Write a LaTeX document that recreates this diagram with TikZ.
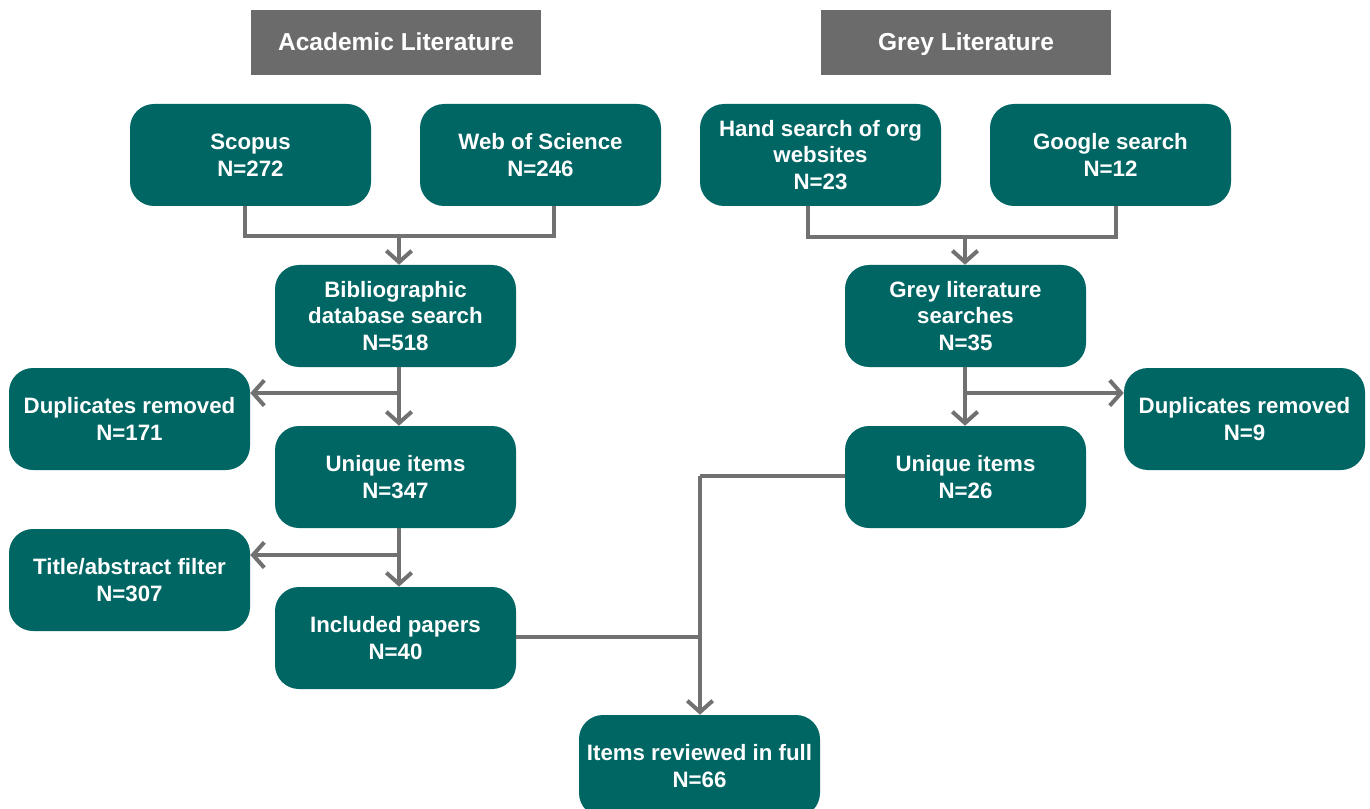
\documentclass[tikz,border=0pt]{standalone}
\usepackage{fontspec}
\setmainfont{Liberation Sans}
\usetikzlibrary{arrows.meta}
\definecolor{boxteal}{HTML}{006664}
\definecolor{hdrgray}{HTML}{6B6B6B}
\definecolor{lngray}{HTML}{717171}
\tikzset{
  box/.style={fill=boxteal, rounded corners=18pt, minimum width=180.75pt, minimum height=76.5pt,
    text=white, font=\bfseries\fontsize{16.7}{20}\selectfont, align=center, inner sep=0pt},
  hdr/.style={fill=hdrgray, minimum width=217.5pt, minimum height=48.75pt,
    text=white, font=\bfseries\fontsize{18.4}{22}\selectfont, inner sep=0pt,
    text height=16.2pt, text depth=3.8pt},
  conn/.style={draw=lngray, line width=3pt},
  arr/.style={conn, -{Straight Barb[length=8.5pt,width=19pt]}},
}
\begin{document}
\begin{tikzpicture}[x=0.75pt,y=-0.75pt]
\path[use as bounding box, clip] (0,0) rectangle (1370,809);
% headers
\node[hdr] (acad) at (396,42.5) {Academic Literature};
\node[hdr] (grey) at (966,42.5) {Grey Literature};
% boxes
\node[box] (scopus) at (250.5,155) {Scopus\\N=272};
\node[box] (wos) at (540.5,155) {Web of Science\\N=246};
\node[box] (hand) at (820.5,155) {Hand search of org\\websites\\N=23};
\node[box] (google) at (1110.5,155) {Google search\\N=12};
\node[box] (bib) at (395.5,316) {Bibliographic\\database search\\N=518};
\node[box] (glit) at (965.5,316) {Grey literature\\searches\\N=35};
\node[box] (dup1) at (129.5,419) {Duplicates removed\\N=171};
\node[box] (uniq1) at (395.5,477) {Unique items\\N=347};
\node[box] (dup2) at (1244.5,419) {Duplicates removed\\N=9};
\node[box] (uniq2) at (965.5,477) {Unique items\\N=26};
\node[box] (title) at (129.5,580) {Title/abstract filter\\N=307};
\node[box] (incl) at (395.5,638) {Included papers\\N=40};
\node[box] (items) at (699.5,766) {Items reviewed in full\\N=66};
% junctions
\coordinate (j1) at (399,236);
\coordinate (j2) at (965,237);
\coordinate (j3) at (399,393);
\coordinate (j4) at (965,393);
\coordinate (j5) at (399,555);
\coordinate (j6) at (700,476);
\coordinate (j7) at (700,637);
% connectors
\draw[conn] ([xshift=-4.1pt]scopus.south) |- (j1) -| ([xshift=10.1pt]wos.south);
\draw[arr] (j1) -- (j1 |- bib.north);
\draw[conn] ([xshift=-9.4pt]hand.south) |- (j2) -| ([xshift=4.1pt]google.south);
\draw[arr] (j2) -- (j2 |- glit.north);
\draw[arr] (j3 |- bib.south) -- (j3 |- uniq1.north);
\draw[arr] (j3) -- (j3 -| dup1.east);
\draw[arr] (j4 |- glit.south) -- (j4 |- uniq2.north);
\draw[arr] (j4) -- (j4 -| dup2.west);
\draw[arr] (j5 |- uniq1.south) -- (j5 |- incl.north);
\draw[arr] (j5) -- (j5 -| title.east);
\draw[conn] (uniq2.west |- j6) -- (j6);
\draw[arr] (j6) -- (j6 |- items.north);
\draw[conn] (incl.east |- j7) -- (j7);
\end{tikzpicture}
\end{document}
